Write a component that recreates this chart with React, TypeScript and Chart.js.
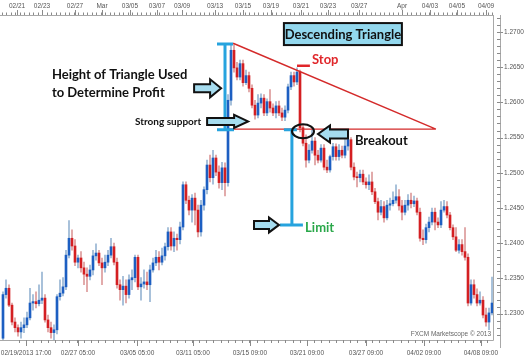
import React, { useEffect, useRef } from 'react';
import { Chart, registerables } from 'chart.js';
Chart.register(...registerables);

// ---- candle data (4h EUR/USD style) ----
const opens = [
  1.2265,1.2327,1.2336,1.2312,1.2288,1.2280,1.2274,1.2280,1.2284,1.2294,
  1.2315,1.2317,1.2314,1.2319,1.2322,1.2291,1.2280,1.2273,1.2277,1.2324,
  1.2329,1.2338,1.2383,1.2407,1.2396,1.2373,1.2379,1.2365,1.2356,1.2353,
  1.2362,1.2382,1.2386,1.2372,1.2365,1.2373,1.2383,1.2395,1.2373,1.2341,
  1.2334,1.2339,1.2327,1.2348,1.2351,1.2380,1.2338,1.2342,1.2345,1.2341,
  1.2362,1.2372,1.2380,1.2373,1.2382,1.2395,1.2416,1.2396,1.2407,1.2405,
  1.2423,1.2483,1.2461,1.2447,1.2464,1.2447,1.2416,1.2454,1.2476,1.2511,
  1.2493,1.2521,1.2501,1.2486,1.2507,1.2486,1.2603,1.2674,1.2649,1.2636,
  1.2655,1.2628,1.2638,1.2620,1.2596,1.2582,1.2599,1.2606,1.2585,1.2601,
  1.2592,1.2585,1.2595,1.2585,1.2579,1.2589,1.2622,1.2638,1.2629,1.2643,
  1.2564,1.2542,1.2518,1.2532,1.2545,1.2525,1.2518,1.2535,1.2508,1.2504,
  1.2523,1.2537,1.2523,1.2532,1.2525,1.2538,1.2547,1.2508,1.2494,1.2493,
  1.2498,1.2487,1.2483,1.2487,1.2473,1.2459,1.2444,1.2452,1.2436,1.2454,
  1.2456,1.2461,1.2466,1.2453,1.2444,1.2454,1.2461,1.2456,1.2460,1.2444,
  1.2407,1.2405,1.2422,1.2430,1.2444,1.2430,1.2426,1.2447,1.2452,1.2440,
  1.2422,1.2409,1.2390,1.2398,1.2388,1.2380,1.2315,1.2341,1.2327,1.2315,
  1.2319,1.2298,1.2288,1.2301,
];
const highs = [
  1.2331,1.2348,1.2341,1.2315,1.2294,1.2284,1.2288,1.2294,1.2302,1.2336,
  1.2327,1.2331,1.2341,1.2359,1.2327,1.2298,1.2288,1.2284,1.2327,1.2348,
  1.2351,1.2390,1.2432,1.2419,1.2405,1.2383,1.2388,1.2373,1.2365,1.2369,
  1.2390,1.2399,1.2390,1.2379,1.2383,1.2390,1.2407,1.2400,1.2379,1.2348,
  1.2353,1.2348,1.2355,1.2362,1.2383,1.2383,1.2351,1.2362,1.2359,1.2369,
  1.2379,1.2390,1.2388,1.2393,1.2400,1.2422,1.2422,1.2416,1.2413,1.2430,
  1.2487,1.2487,1.2467,1.2469,1.2471,1.2454,1.2461,1.2480,1.2518,1.2525,
  1.2532,1.2525,1.2510,1.2515,1.2514,1.2611,1.2683,1.2682,1.2657,1.2660,
  1.2660,1.2646,1.2643,1.2625,1.2603,1.2611,1.2612,1.2611,1.2605,1.2618,
  1.2598,1.2601,1.2602,1.2592,1.2595,1.2626,1.2643,1.2643,1.2649,1.2646,
  1.2568,1.2554,1.2540,1.2561,1.2550,1.2532,1.2540,1.2540,1.2518,1.2525,
  1.2542,1.2541,1.2540,1.2538,1.2547,1.2554,1.2550,1.2514,1.2501,1.2504,
  1.2504,1.2493,1.2497,1.2501,1.2478,1.2464,1.2461,1.2459,1.2461,1.2464,
  1.2473,1.2483,1.2476,1.2461,1.2461,1.2469,1.2471,1.2467,1.2464,1.2450,
  1.2419,1.2427,1.2437,1.2450,1.2450,1.2436,1.2459,1.2461,1.2459,1.2444,
  1.2426,1.2422,1.2405,1.2405,1.2422,1.2385,1.2348,1.2348,1.2335,1.2331,
  1.2324,1.2308,1.2308,1.2352,
];
const lows = [
  1.2263,1.2322,1.2310,1.2284,1.2274,1.2268,1.2265,1.2273,1.2280,1.2291,
  1.2305,1.2308,1.2311,1.2314,1.2288,1.2274,1.2265,1.2263,1.2271,1.2319,
  1.2325,1.2334,1.2379,1.2390,1.2368,1.2365,1.2359,1.2341,1.2331,1.2348,
  1.2355,1.2376,1.2368,1.2341,1.2359,1.2368,1.2379,1.2369,1.2336,1.2319,
  1.2312,1.2315,1.2322,1.2334,1.2345,1.2334,1.2319,1.2336,1.2334,1.2317,
  1.2359,1.2368,1.2362,1.2369,1.2376,1.2390,1.2390,1.2388,1.2390,1.2399,
  1.2419,1.2456,1.2440,1.2430,1.2426,1.2409,1.2410,1.2447,1.2470,1.2487,
  1.2484,1.2496,1.2478,1.2476,1.2467,1.2481,1.2596,1.2643,1.2632,1.2632,
  1.2623,1.2625,1.2615,1.2592,1.2576,1.2578,1.2592,1.2581,1.2581,1.2586,
  1.2581,1.2578,1.2581,1.2574,1.2574,1.2585,1.2618,1.2623,1.2625,1.2558,
  1.2538,1.2508,1.2514,1.2528,1.2511,1.2514,1.2515,1.2504,1.2500,1.2501,
  1.2518,1.2518,1.2518,1.2521,1.2521,1.2532,1.2504,1.2490,1.2480,1.2487,
  1.2483,1.2478,1.2476,1.2469,1.2456,1.2433,1.2440,1.2430,1.2433,1.2447,
  1.2453,1.2457,1.2447,1.2433,1.2440,1.2447,1.2450,1.2452,1.2440,1.2403,
  1.2398,1.2400,1.2416,1.2426,1.2419,1.2422,1.2422,1.2444,1.2436,1.2419,
  1.2405,1.2388,1.2386,1.2383,1.2376,1.2311,1.2312,1.2322,1.2311,1.2312,
  1.2294,1.2282,1.2277,1.2298,
];
const closes = [
  1.2327,1.2336,1.2312,1.2288,1.2280,1.2274,1.2280,1.2284,1.2294,1.2315,
  1.2317,1.2314,1.2319,1.2322,1.2291,1.2280,1.2273,1.2277,1.2324,1.2329,
  1.2338,1.2383,1.2407,1.2396,1.2373,1.2379,1.2365,1.2356,1.2353,1.2362,
  1.2382,1.2386,1.2372,1.2365,1.2373,1.2383,1.2395,1.2373,1.2341,1.2334,
  1.2339,1.2327,1.2348,1.2351,1.2380,1.2338,1.2342,1.2345,1.2341,1.2362,
  1.2372,1.2380,1.2373,1.2382,1.2395,1.2416,1.2396,1.2407,1.2405,1.2423,
  1.2483,1.2461,1.2447,1.2464,1.2447,1.2416,1.2454,1.2476,1.2511,1.2493,
  1.2521,1.2501,1.2486,1.2507,1.2486,1.2603,1.2674,1.2649,1.2636,1.2655,
  1.2628,1.2638,1.2620,1.2596,1.2582,1.2599,1.2606,1.2585,1.2601,1.2592,
  1.2585,1.2595,1.2585,1.2579,1.2589,1.2622,1.2638,1.2629,1.2643,1.2564,
  1.2542,1.2518,1.2532,1.2545,1.2525,1.2518,1.2535,1.2508,1.2504,1.2523,
  1.2537,1.2523,1.2532,1.2525,1.2538,1.2547,1.2508,1.2494,1.2493,1.2498,
  1.2487,1.2483,1.2487,1.2473,1.2459,1.2444,1.2452,1.2436,1.2454,1.2456,
  1.2461,1.2466,1.2453,1.2444,1.2454,1.2461,1.2456,1.2460,1.2444,1.2407,
  1.2405,1.2422,1.2430,1.2444,1.2430,1.2426,1.2447,1.2452,1.2440,1.2422,
  1.2409,1.2390,1.2398,1.2388,1.2380,1.2315,1.2341,1.2327,1.2315,1.2319,
  1.2298,1.2288,1.2301,1.2315,
];

// ---- axes ----
const yTicks = [1.23, 1.235, 1.24, 1.245, 1.25, 1.255, 1.26, 1.265, 1.27];
const topTickLabels = ['02/21','02/23','02/27','Mar','03/05','03/07','03/09','03/13','03/15','03/19','03/21','03/23','03/27','Apr','04/03','04/05','04/09'];
const topTickPos = [4.7,13,24,33,42.3,51.3,59.7,70.7,80,89.3,99.3,108.3,118.7,133,142.3,151.3,161];
const bottomTickLabels = ['02/19/2013 17:00','02/27 05:00','03/05 05:00','03/11 05:00','03/15 09:00','03/21 09:00','03/27 09:00','04/02 09:00','04/08 09:00'];
const bottomTickPos = [7.7,25,44.7,63.3,82.3,101.3,121,140.3,159.3];
const X_MIN = -1;
const X_MAX = 163.33;
const Y_MIN = 1.22625;
const Y_MAX = 1.27241;

// ---- annotation anchors (candle index, price) ----
const triangleTop = [76.7, 1.2684];
const triangleApex = [144.3, 1.2562];
const supportStart = [75.3, 1.2562];
const heightBar = { idx: 74, top: 1.2683, bottom: 1.2561 };
const limitBar = { idx: 96.3, top: 1.2561, bottom: 1.2426 };
const breakoutCircle = [100, 1.2559];

const UP = '#1d5fc2';
const DOWN = '#d41f22';
const UP_WICK = '#97b5d3';
const DOWN_WICK = '#dc9a9a';
const BRACKET = '#26a3de';
const TRI_RED = '#d42a2a';
const ARROW_FILL = '#a6dcef';
const FONT = 'Lato, "DejaVu Sans", sans-serif';

function arrow(ctx: CanvasRenderingContext2D, tipX: number, tipY: number, dir: number, len: number, shaft: number, head: number, headLen: number) {
  const bx = tipX - dir * len;
  const hx = tipX - dir * headLen;
  ctx.beginPath();
  ctx.moveTo(bx, tipY - shaft / 2);
  ctx.lineTo(hx, tipY - shaft / 2);
  ctx.lineTo(hx, tipY - head / 2);
  ctx.lineTo(tipX, tipY);
  ctx.lineTo(hx, tipY + head / 2);
  ctx.lineTo(hx, tipY + shaft / 2);
  ctx.lineTo(bx, tipY + shaft / 2);
  ctx.closePath();
  ctx.fillStyle = ARROW_FILL;
  ctx.fill();
  ctx.lineWidth = 2;
  ctx.strokeStyle = '#111';
  ctx.lineJoin = 'miter';
  ctx.stroke();
}

const framePlugin = {
  id: 'frame',
  beforeDatasetsDraw(chart: any) {
    const ctx = chart.ctx as CanvasRenderingContext2D;
    const { left, right, top, bottom } = chart.chartArea;
    const xs = chart.scales.x;
    const ys = chart.scales.y;
    ctx.save();
    ctx.strokeStyle = '#a8a8a8';
    ctx.lineWidth = 1;
    ctx.beginPath();
    ctx.moveTo(left, top + 0.5); ctx.lineTo(right + 0.5, top + 0.5);
    ctx.moveTo(right + 0.5, top); ctx.lineTo(right + 0.5, bottom + 0.5);
    ctx.moveTo(left, bottom + 0.5); ctx.lineTo(right + 0.5, bottom + 0.5);
    ctx.moveTo(right + 7.5, top); ctx.lineTo(right + 7.5, bottom + 8);
    ctx.stroke();
    ctx.strokeStyle = '#8a8a8a';
    ctx.beginPath();
    for (let v = X_MIN + 0.5; v <= X_MAX; v += 1.5) {
      const px = Math.round(xs.getPixelForValue(v)) + 0.5;
      ctx.moveTo(px, top); ctx.lineTo(px, top - 2.5);
    }
    topTickPos.forEach((v) => {
      const px = Math.round(xs.getPixelForValue(v)) + 0.5;
      ctx.moveTo(px, top); ctx.lineTo(px, top - 5);
    });
    for (let v = bottomTickPos[0] - 2.4; v <= X_MAX; v += 2.4) {
      const px = Math.round(xs.getPixelForValue(v)) + 0.5;
      ctx.moveTo(px, bottom); ctx.lineTo(px, bottom + 3);
    }
    bottomTickPos.forEach((v) => {
      const px = Math.round(xs.getPixelForValue(v)) + 0.5;
      ctx.moveTo(px, bottom); ctx.lineTo(px, bottom + 6);
    });
    for (let p = 1.227; p <= 1.2724; p += 0.001) {
      const py = Math.round(ys.getPixelForValue(p)) + 0.5;
      ctx.moveTo(right + 4, py); ctx.lineTo(right + 7.5, py);
    }
    yTicks.forEach((p) => {
      const py = Math.round(ys.getPixelForValue(p)) + 0.5;
      ctx.moveTo(right + 7.5, py); ctx.lineTo(right + 10, py);
    });
    ctx.stroke();
    ctx.fillStyle = '#666';
    ctx.font = '6.5px "Liberation Sans", Arial, sans-serif';
    ctx.textAlign = 'right';
    ctx.textBaseline = 'middle';
    ctx.fillText('FXCM Marketscope \u00a9 2013', right - 2, bottom - 6);
    ctx.restore();
  },
};

const annotPlugin = {
  id: 'annot',
  afterDatasetsDraw(chart: any) {
    const ctx = chart.ctx as CanvasRenderingContext2D;
    const xs = chart.scales.x;
    const ys = chart.scales.y;
    const X = (v: number) => xs.getPixelForValue(v);
    const Y = (v: number) => ys.getPixelForValue(v);
    ctx.save();

    ctx.strokeStyle = TRI_RED;
    ctx.lineWidth = 1.4;
    ctx.beginPath();
    ctx.moveTo(X(triangleTop[0]), Y(triangleTop[1]));
    ctx.lineTo(X(triangleApex[0]), Y(triangleApex[1]));
    ctx.moveTo(X(supportStart[0]), Y(supportStart[1]));
    ctx.lineTo(X(triangleApex[0]), Y(triangleApex[1]));
    ctx.stroke();

    ctx.strokeStyle = BRACKET;
    ctx.lineWidth = 3;
    ctx.lineCap = 'butt';
    const hx = X(heightBar.idx);
    const lx = X(limitBar.idx);
    ctx.beginPath();
    ctx.moveTo(hx, Y(heightBar.top) - 1); ctx.lineTo(hx, Y(heightBar.bottom) + 1);
    ctx.moveTo(hx - 8, Y(heightBar.top)); ctx.lineTo(hx + 8, Y(heightBar.top));
    ctx.moveTo(hx - 8, Y(heightBar.bottom)); ctx.lineTo(hx + 9, Y(heightBar.bottom));
    ctx.moveTo(lx, Y(limitBar.top)); ctx.lineTo(lx, Y(limitBar.bottom));
    ctx.moveTo(lx - 8, Y(limitBar.top)); ctx.lineTo(lx + 5, Y(limitBar.top));
    ctx.moveTo(lx - 12, Y(limitBar.bottom)); ctx.lineTo(lx + 11, Y(limitBar.bottom));
    ctx.stroke();

    arrow(ctx, X(72.7), Y(1.2620), 1, 27, 8, 18, 11);
    arrow(ctx, X(81.7), Y(1.2573), 1, 41, 7, 13, 14);
    arrow(ctx, X(105), Y(1.2555), -1, 30, 9, 17, 12);
    arrow(ctx, X(92), Y(1.2426), 1, 25, 8, 15, 10);

    ctx.strokeStyle = '#111';
    ctx.lineWidth = 2;
    ctx.beginPath();
    ctx.ellipse(X(breakoutCircle[0]), Y(breakoutCircle[1]), 11, 7, 0, 0, Math.PI * 2);
    ctx.stroke();

    ctx.strokeStyle = '#e0262a';
    ctx.lineWidth = 2.5;
    ctx.beginPath();
    ctx.moveTo(X(98), Y(1.2652)); ctx.lineTo(X(102.3), Y(1.2652));
    ctx.stroke();

    const bx = X(113.3), by = Y(1.2697);
    ctx.fillStyle = '#93d8ee';
    ctx.fillRect(bx - 59, by - 11, 118, 22);
    ctx.strokeStyle = '#111';
    ctx.lineWidth = 2;
    ctx.strokeRect(bx - 59, by - 11, 118, 22);

    ctx.textBaseline = 'middle';
    ctx.textAlign = 'center';
    ctx.fillStyle = '#111';
    ctx.font = `bold 13px ${FONT}`;
    ctx.fillText('Descending Triangle', bx, by + 0.5);

    ctx.textAlign = 'left';
    ctx.fillText('Height of Triangle Used', X(16.3), Y(1.2639));
    ctx.fillText('to Determine Profit', X(16.3), Y(1.2613));
    ctx.fillText('Breakout', X(117.3), Y(1.2545));
    ctx.font = `bold 10px ${FONT}`;
    ctx.fillText('Strong support', X(44), Y(1.2572));
    ctx.font = `bold 13px ${FONT}`;
    ctx.fillStyle = '#e0262a';
    ctx.fillText('Stop', X(103), Y(1.2660));
    ctx.fillStyle = '#2aa84a';
    ctx.fillText('Limit', X(100.7), Y(1.2422));
    ctx.restore();
  },
};

export default function App() {
  const ref = useRef<HTMLCanvasElement>(null);
  useEffect(() => {
    const canvas = ref.current;
    if (!canvas) return;
    const idx = opens.map((_, i) => i);
    const axisFont = { family: '"Liberation Sans", Arial, sans-serif', size: 6.5 };
    const noPadH = (s: any, h: number) => { s.height = h; s.paddingLeft = 0; s.paddingRight = 0; };
    const chart = new Chart(canvas, {
      type: 'bar',
      data: {
        datasets: [
          {
            label: 'body',
            data: idx.map((i) => ({ x: i, y: [opens[i], closes[i]] })) as any,
            backgroundColor: idx.map((i) => (closes[i] >= opens[i] ? UP : DOWN)),
            barThickness: 2,
            minBarLength: 1,
            grouped: false,
          },
          {
            label: 'wick',
            data: idx.map((i) => ({ x: i, y: [lows[i], highs[i]] })) as any,
            backgroundColor: idx.map((i) => (closes[i] >= opens[i] ? UP_WICK : DOWN_WICK)),
            barThickness: 1,
            grouped: false,
          },
        ],
      },
      options: {
        responsive: false,
        animation: false,
        layout: { padding: 0 },
        plugins: { legend: { display: false }, tooltip: { enabled: false } },
        scales: {
          x: {
            type: 'linear',
            position: 'bottom',
            min: X_MIN,
            max: X_MAX,
            offset: false,
            grid: { display: false, drawTicks: false },
            border: { display: false },
            afterBuildTicks: (s: any) => { s.ticks = bottomTickPos.map((v) => ({ value: v })); },
            afterFit: (s: any) => noPadH(s, 19),
            ticks: {
              autoSkip: false, maxRotation: 0, minRotation: 0, padding: 9, color: '#555', font: axisFont,
              callback: (_v: any, i: number) => bottomTickLabels[i],
            },
          },
          x2: {
            type: 'linear',
            position: 'top',
            min: X_MIN,
            max: X_MAX,
            offset: false,
            grid: { display: false, drawTicks: false },
            border: { display: false },
            afterBuildTicks: (s: any) => { s.ticks = topTickPos.map((v) => ({ value: v })); },
            afterFit: (s: any) => noPadH(s, 15),
            ticks: {
              autoSkip: false, maxRotation: 0, minRotation: 0, padding: 5, color: '#555', font: axisFont,
              callback: (_v: any, i: number) => topTickLabels[i],
            },
          },
          y: {
            type: 'linear',
            position: 'right',
            min: Y_MIN,
            max: Y_MAX,
            grid: { display: false, drawTicks: false },
            border: { display: false },
            afterBuildTicks: (s: any) => { s.ticks = yTicks.map((v) => ({ value: v })); },
            afterFit: (s: any) => { s.width = 36; s.paddingTop = 0; s.paddingBottom = 0; },
            ticks: {
              padding: 11, color: '#555', font: axisFont,
              callback: (v: any) => Number(v).toFixed(4),
            },
          },
        },
      } as any,
      plugins: [framePlugin, annotPlugin],
    });
    return () => chart.destroy();
  }, []);
  return (
    <div style={{ position: 'absolute', left: 0, top: 0, width: 529, height: 359, background: '#fff' }}>
      <canvas ref={ref} width={529} height={359} style={{ display: 'block' }} />
    </div>
  );
}
